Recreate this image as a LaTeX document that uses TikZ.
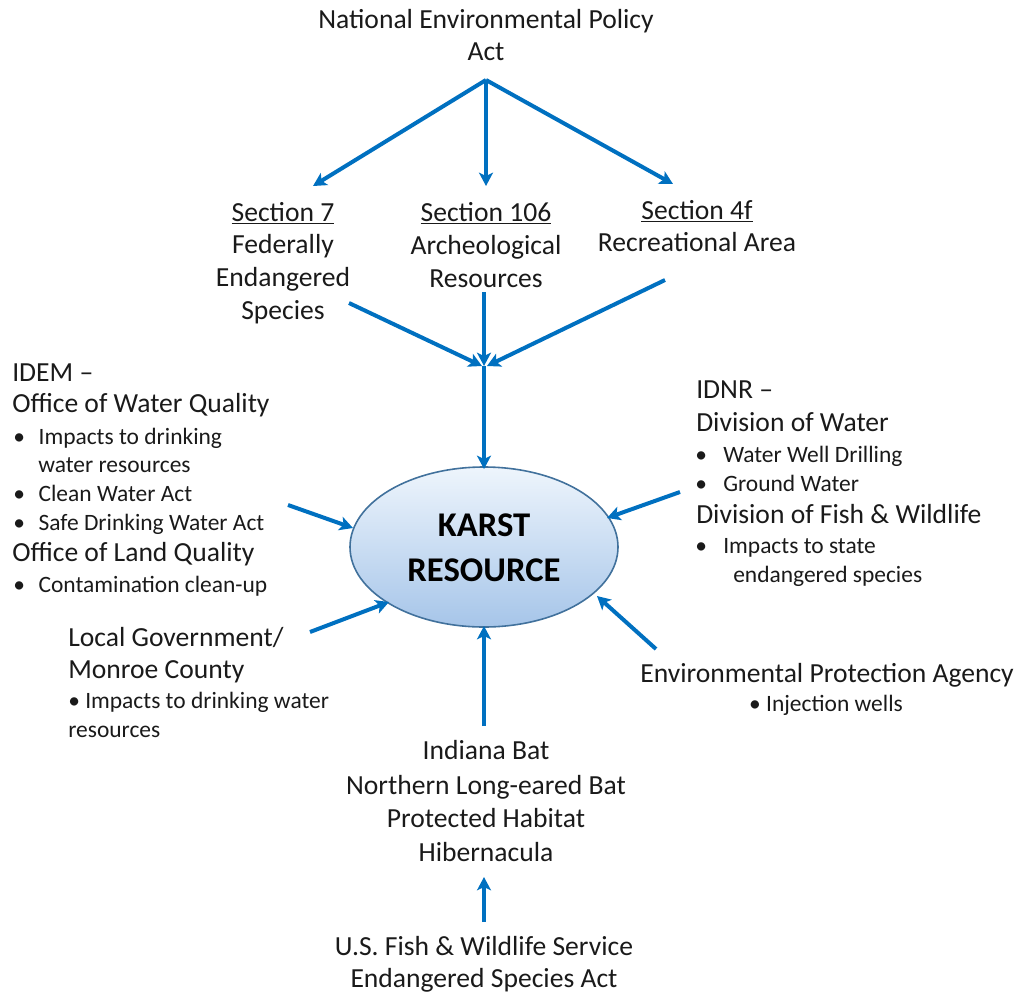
\documentclass[tikz,border=0pt]{standalone}
\usepackage{fontspec}
\setmainfont{Carlito}
\usetikzlibrary{arrows.meta,shapes.geometric}
\definecolor{arrowblue}{RGB}{0,112,192}
\definecolor{txtcol}{RGB}{26,26,26}
\definecolor{rimblue}{RGB}{65,113,156}
\definecolor{fillTop}{RGB}{238,245,252}
\definecolor{fillBot}{RGB}{166,197,233}
\begin{document}
\begin{tikzpicture}[x=0.75pt,y=-0.75pt,
  main/.style={inner sep=0pt, font=\fontsize{20.7}{24}\selectfont, text=txtcol},
  small/.style={inner sep=0pt, font=\fontsize{17.6}{21}\selectfont, text=txtcol},
  bigbold/.style={inner sep=0pt, font=\fontsize{26}{30}\selectfont\bfseries, text=black},
  flow/.style={draw=arrowblue, line width=3pt, -{Stealth[length=10pt,width=10.5pt,inset=2.5pt]}},
  blob/.style={ellipse, draw=rimblue, line width=1.2pt, inner sep=0pt,
    minimum width=201pt, minimum height=120pt, top color=fillTop, bottom color=fillBot}
]
\useasboundingbox (0,0) rectangle (1021,993);

% top
\node[main, anchor=base] (nepa1) at (486,28) {National Environmental Policy};
\node[main, anchor=base] (nepa2) at (486,60) {Act};

% sections
\node[main, anchor=base] (s7a) at (283,221) {\underline{Section 7}};
\node[main, anchor=base] (s7b) at (283,253) {Federally};
\node[main, anchor=base] (s7c) at (283,286) {Endangered};
\node[main, anchor=base] (s7d) at (283,319) {Species};

\node[main, anchor=base] (s106a) at (486,221) {\underline{Section 106}};
\node[main, anchor=base] (s106b) at (486,254) {Archeological};
\node[main, anchor=base] (s106c) at (486,287) {Resources};

\node[main, anchor=base] (s4a) at (697,219) {\underline{Section 4f}};
\node[main, anchor=base] (s4b) at (697,251) {Recreational Area};

% central ellipse
\node[blob] (karst) at (484,547) {};
\node[bigbold, anchor=base] (k1) at (484,536) {KARST};
\node[bigbold, anchor=base] (k2) at (484,581) {RESOURCE};

% IDEM
\node[main, anchor=base west] (idem1) at (12,381) {IDEM –};
\node[main, anchor=base west] (idem2) at (12,412) {Office of Water Quality};
\node[small, anchor=base west] (idem3) at (13,444) {\makebox[19pt][l]{•}Impacts to drinking};
\node[small, anchor=base west] (idem4) at (38,472) {water resources};
\node[small, anchor=base west] (idem5) at (13,501) {\makebox[19pt][l]{•}Clean Water Act};
\node[small, anchor=base west] (idem6) at (13,530) {\makebox[19pt][l]{•}Safe Drinking Water Act};
\node[main, anchor=base west] (idem7) at (12,561) {Office of Land Quality};
\node[small, anchor=base west] (idem8) at (13,592) {\makebox[19pt][l]{•}Contamination clean-up};

% Local government
\node[main, anchor=base west] (loc1) at (68,646) {Local Government/};
\node[main, anchor=base west] (loc2) at (68,678) {Monroe County};
\node[small, anchor=base west] (loc3) at (68,708) {• Impacts to drinking water};
\node[small, anchor=base west] (loc4) at (68,737) {resources};

% IDNR
\node[main, anchor=base west] (idnr1) at (696,398) {IDNR –};
\node[main, anchor=base west] (idnr2) at (696,431) {Division of Water};
\node[small, anchor=base west] (idnr3) at (695,462) {\makebox[21pt][l]{•}Water Well Drilling};
\node[small, anchor=base west] (idnr4) at (695,491) {\makebox[21pt][l]{•}Ground Water};
\node[main, anchor=base west] (idnr5) at (696,523) {Division of Fish \& Wildlife};
\node[small, anchor=base west] (idnr6) at (695,553) {\makebox[21pt][l]{•}Impacts to state};
\node[small, anchor=base west] (idnr7) at (733,582) {endangered species};

% EPA
\node[main, anchor=base] (epa1) at (827,682) {Environmental Protection Agency};
\node[small, anchor=base] (epa2) at (826,711) {• Injection wells};

% bats
\node[main, anchor=base] (bat1) at (486,759) {Indiana Bat};
\node[main, anchor=base] (bat2) at (486,794) {Northern Long-eared Bat};
\node[main, anchor=base] (bat3) at (486,827) {Protected Habitat};
\node[main, anchor=base] (bat4) at (486,861) {Hibernacula};

% USFWS
\node[main, anchor=base] (fws1) at (484,955) {U.S. Fish \& Wildlife Service};
\node[main, anchor=base] (fws2) at (484,987) {Endangered Species Act};

% connector end points
\coordinate (apex) at (486,80);
\coordinate (t7) at (313,186);
\coordinate (t106) at (486,186);
\coordinate (t4) at (673,184);
\coordinate (f7) at (349,303);
\coordinate (f106) at (484,292);
\coordinate (f4) at (665,280);
\coordinate (junc) at (484,366);
\coordinate (jl) at (482,366);
\coordinate (jr) at (487,366);
\coordinate (kt) at (484,469);
\coordinate (fidem) at (288,505);
\coordinate (tidem) at (353,528);
\coordinate (floc) at (310,632);
\coordinate (tloc) at (389,602);
\coordinate (fidnr) at (680,492);
\coordinate (tidnr) at (607,518);
\coordinate (fepa) at (656,649);
\coordinate (tepa) at (597,596);
\coordinate (fbat) at (484,726);
\coordinate (tbat) at (484,626);
\coordinate (ffws) at (484,922);
\coordinate (tfws) at (484,877);

% connectors
\draw[flow] (apex) -- (t7);
\draw[flow] (apex) -- (t106);
\draw[flow] (apex) -- (t4);
\draw[flow] (f7) -- (jl);
\draw[flow] (f106) -- (junc);
\draw[flow] (f4) -- (jr);
\draw[flow] (junc) -- (kt);
\draw[flow] (fidem) -- (tidem);
\draw[flow] (floc) -- (tloc);
\draw[flow] (fidnr) -- (tidnr);
\draw[flow] (fepa) -- (tepa);
\draw[flow] (fbat) -- (tbat);
\draw[flow] (ffws) -- (tfws);
\end{tikzpicture}
\end{document}
